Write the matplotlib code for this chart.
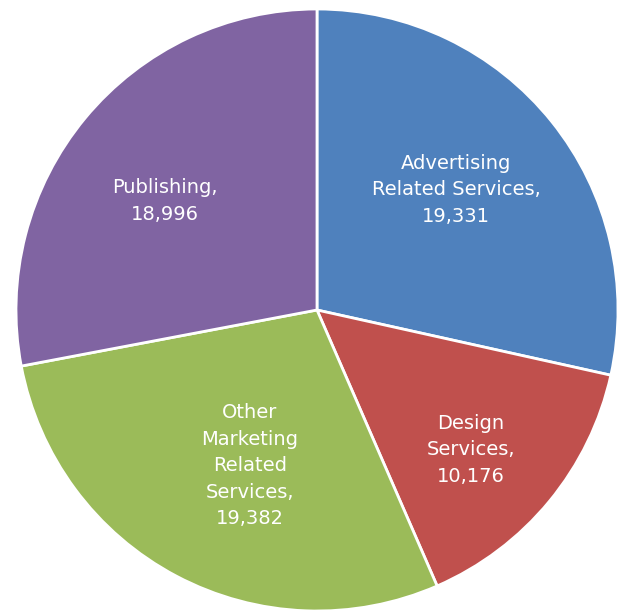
import matplotlib.pyplot as plt

labels = ["Advertising\nRelated Services,", "Design\nServices,", "Other\nMarketing\nRelated\nServices,", "Publishing,"]
values = [19331, 10176, 19382, 18996]
colors = ["#4F81BD", "#C0504D", "#9BBB59", "#8064A2"]

# label centres in pixels of the 627x610 image
label_px = [(456, 190), (471, 450), (250, 466), (165, 201)]

W, H = 627, 610
cx, cy, r = 317, 310, 301

fig = plt.figure(figsize=(W / 100, H / 100), dpi=100)
ax = fig.add_axes([(cx - r) / W, (H - cy - r) / H, 2 * r / W, 2 * r / H])
ax.pie(values, colors=colors, startangle=90, counterclock=False, radius=1,
       wedgeprops={"edgecolor": "white", "linewidth": 2})
ax.set_xlim(-1, 1)
ax.set_ylim(-1, 1)
ax.set_aspect("equal")
ax.axis("off")

for lab, v, (px, py) in zip(labels, values, label_px):
    ax.text((px - cx) / r, (cy - py) / r, f"{lab}\n{v:,}", ha="center", va="center",
            color="white", fontsize=14, family="DejaVu Sans", linespacing=1.5)

fig.savefig("out.png", dpi=100)
